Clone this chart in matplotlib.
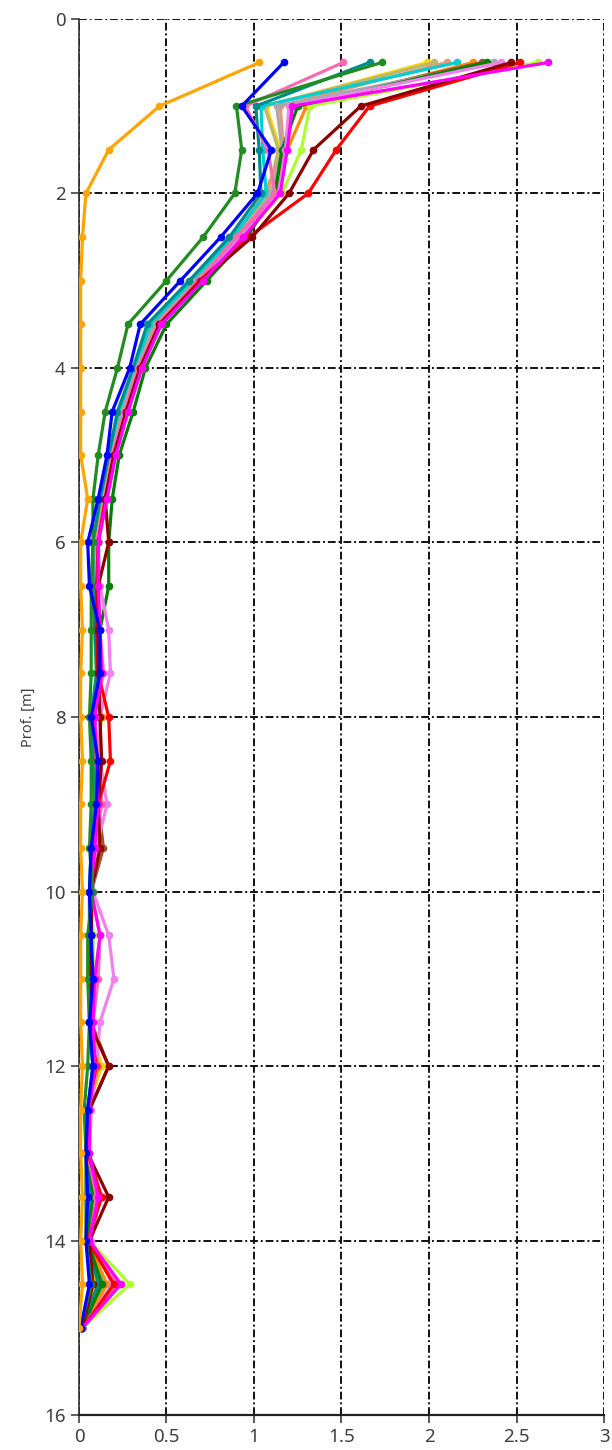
import numpy as np
import matplotlib.pyplot as plt
from matplotlib.ticker import FuncFormatter

plt.rcParams['font.family'] = ['Noto Sans', 'DejaVu Sans']

# depth of every reading (m)
depths = np.arange(0.5, 15.01, 0.5)

# one profile per borehole, value at each depth
orange = [1.03, 0.46, 0.17, 0.04, 0.02, 0.01, 0.01, 0.01, 0.01, 0.01, 0.05, 0.01, 0.01, 0.02, 0.01,
          0.01, 0.02, 0.01, 0.01, 0.02, 0.01, 0.01, 0.01, 0.02, 0.01, 0.01, 0.02, 0.01, 0.02, 0.0]
blue = [1.17, 0.93, 1.10, 1.02, 0.81, 0.58, 0.35, 0.29, 0.19, 0.16, 0.11, 0.05, 0.06, 0.12, 0.12,
        0.07, 0.11, 0.10, 0.07, 0.06, 0.07, 0.08, 0.06, 0.08, 0.05, 0.04, 0.05, 0.04, 0.06, 0.01]
hotpink = [1.51, 0.95, 1.08, 1.12, 0.90, 0.68, 0.45, 0.34, 0.26, 0.19, 0.15, 0.10, 0.11, 0.12, 0.14,
           0.09, 0.11, 0.13, 0.09, 0.07, 0.12, 0.11, 0.08, 0.09, 0.05, 0.05, 0.10, 0.06, 0.22, 0.02]
darkcyan = [1.66, 1.01, 1.03, 1.04, 0.86, 0.63, 0.39, 0.31, 0.22, 0.17, 0.12, 0.08, 0.08, 0.09, 0.10,
            0.07, 0.08, 0.09, 0.07, 0.06, 0.06, 0.06, 0.06, 0.08, 0.05, 0.04, 0.06, 0.05, 0.11, 0.01]
forestgreen = [1.73, 0.90, 0.93, 0.89, 0.71, 0.50, 0.28, 0.22, 0.15, 0.11, 0.08, 0.08, 0.07, 0.07, 0.07,
               0.06, 0.07, 0.07, 0.06, 0.08, 0.05, 0.05, 0.06, 0.05, 0.03, 0.04, 0.04, 0.04, 0.07, 0.01]
gold = [1.99, 1.07, 1.15, 1.10, 0.90, 0.66, 0.43, 0.33, 0.24, 0.18, 0.13, 0.09, 0.08, 0.09, 0.10,
        0.08, 0.09, 0.10, 0.08, 0.06, 0.06, 0.07, 0.06, 0.13, 0.05, 0.04, 0.07, 0.04, 0.10, 0.01]
khaki = [2.03, 1.06, 1.14, 1.08, 0.88, 0.65, 0.42, 0.32, 0.24, 0.18, 0.13, 0.09, 0.09, 0.10, 0.11,
         0.08, 0.09, 0.09, 0.08, 0.06, 0.07, 0.07, 0.06, 0.10, 0.05, 0.05, 0.07, 0.05, 0.13, 0.01]
darksalmon = [2.10, 1.15, 1.17, 1.06, 0.89, 0.66, 0.43, 0.33, 0.25, 0.18, 0.14, 0.10, 0.09, 0.10, 0.11,
              0.08, 0.09, 0.10, 0.08, 0.07, 0.07, 0.07, 0.06, 0.09, 0.05, 0.05, 0.08, 0.05, 0.15, 0.02]
darkturquoise = [2.16, 1.04, 1.05, 1.07, 0.88, 0.65, 0.41, 0.32, 0.23, 0.17, 0.13, 0.09, 0.09, 0.10, 0.11,
                 0.08, 0.08, 0.09, 0.07, 0.06, 0.07, 0.06, 0.06, 0.08, 0.05, 0.05, 0.07, 0.05, 0.14, 0.01]
darkorange = [2.25, 1.30, 1.19, 1.13, 0.93, 0.69, 0.45, 0.34, 0.26, 0.19, 0.14, 0.10, 0.10, 0.11, 0.11,
              0.13, 0.10, 0.10, 0.08, 0.07, 0.07, 0.07, 0.07, 0.11, 0.06, 0.05, 0.09, 0.05, 0.16, 0.02]
sienna = [2.30, 1.22, 1.17, 1.12, 0.92, 0.68, 0.44, 0.34, 0.26, 0.19, 0.14, 0.10, 0.10, 0.11, 0.12,
          0.09, 0.10, 0.11, 0.14, 0.07, 0.07, 0.08, 0.07, 0.17, 0.06, 0.05, 0.10, 0.06, 0.12, 0.02]
green = [2.33, 1.25, 1.16, 1.12, 0.96, 0.73, 0.50, 0.38, 0.31, 0.23, 0.19, 0.17, 0.17, 0.12, 0.12,
         0.09, 0.10, 0.10, 0.08, 0.07, 0.07, 0.07, 0.07, 0.10, 0.06, 0.05, 0.08, 0.05, 0.13, 0.02]
darkgray = [2.37, 1.13, 1.16, 1.10, 0.91, 0.67, 0.44, 0.33, 0.25, 0.19, 0.14, 0.10, 0.10, 0.11, 0.12,
            0.09, 0.10, 0.10, 0.08, 0.07, 0.08, 0.08, 0.07, 0.09, 0.06, 0.06, 0.09, 0.06, 0.12, 0.02]
violet = [2.41, 1.20, 1.18, 1.14, 0.93, 0.70, 0.47, 0.36, 0.28, 0.21, 0.16, 0.11, 0.12, 0.17, 0.18,
          0.12, 0.12, 0.16, 0.10, 0.08, 0.17, 0.20, 0.12, 0.10, 0.07, 0.06, 0.12, 0.07, 0.19, 0.02]
darkred = [2.47, 1.61, 1.34, 1.20, 0.99, 0.70, 0.46, 0.35, 0.27, 0.20, 0.15, 0.17, 0.11, 0.11, 0.11,
           0.12, 0.13, 0.11, 0.12, 0.07, 0.07, 0.07, 0.06, 0.17, 0.06, 0.05, 0.17, 0.06, 0.08, 0.02]
red = [2.52, 1.66, 1.47, 1.31, 0.97, 0.69, 0.46, 0.35, 0.27, 0.20, 0.15, 0.11, 0.10, 0.10, 0.11,
       0.17, 0.18, 0.11, 0.08, 0.07, 0.07, 0.07, 0.06, 0.10, 0.05, 0.05, 0.13, 0.05, 0.20, 0.02]
greenyellow = [2.62, 1.32, 1.27, 1.16, 0.94, 0.70, 0.46, 0.35, 0.27, 0.20, 0.15, 0.10, 0.10, 0.11, 0.12,
               0.09, 0.10, 0.10, 0.08, 0.07, 0.08, 0.08, 0.07, 0.09, 0.06, 0.05, 0.09, 0.06, 0.29, 0.02]
magenta = [2.68, 1.22, 1.19, 1.15, 0.94, 0.71, 0.47, 0.36, 0.28, 0.21, 0.16, 0.11, 0.11, 0.12, 0.13,
           0.09, 0.10, 0.11, 0.09, 0.07, 0.12, 0.09, 0.08, 0.09, 0.06, 0.06, 0.11, 0.06, 0.24, 0.02]

profiles = [
    ('#FFD700', gold), ('#BDB76B', khaki), ('#E9967A', darksalmon), ('#00CED1', darkturquoise),
    ('#FF8C00', darkorange), ('#A0522D', sienna), ('#A9A9A9', darkgray), ('#008B8B', darkcyan),
    ('#ADFF2F', greenyellow), ('#008000', green), ('#EE82EE', violet), ('#FF69B4', hotpink),
    ('#FF0000', red), ('#8B0000', darkred), ('#FF00FF', magenta), ('#228B22', forestgreen),
    ('#0000FF', blue), ('#FFA500', orange),
]

fig = plt.figure(figsize=(6.12, 14.5), dpi=100, facecolor='white')
ax = fig.add_axes([0.129, 0.024, 0.858, 0.963])

for color, vals in profiles:
    ax.plot(vals, depths, color=color, linewidth=2.3, marker='o', markersize=5.5,
            markeredgewidth=0, zorder=3)

ax.set_xlim(0, 3)
ax.set_ylim(16, 0)
ax.set_xticks(np.arange(0, 3.01, 0.5))
ax.set_yticks(np.arange(0, 16.1, 2))
ax.xaxis.set_major_formatter(FuncFormatter(lambda v, p: f'{v:g}'))
ax.grid(True, color='#111111', linestyle=(0, (4, 1.5, 1, 1.5)), linewidth=1.4, zorder=1)

ax.spines['top'].set_visible(False)
ax.spines['right'].set_visible(False)
ax.spines['left'].set_color('#303030')
ax.spines['bottom'].set_color('#202020')
ax.spines['left'].set_linewidth(1.2)
ax.spines['bottom'].set_linewidth(1.6)
ax.tick_params(axis='both', labelsize=13.5, colors='#404040', length=6, width=1.2)
ax.set_ylabel('Prof. [m]', fontsize=10.5, color='#404040', labelpad=6)

fig.savefig('out.png', dpi=100, facecolor='white')
